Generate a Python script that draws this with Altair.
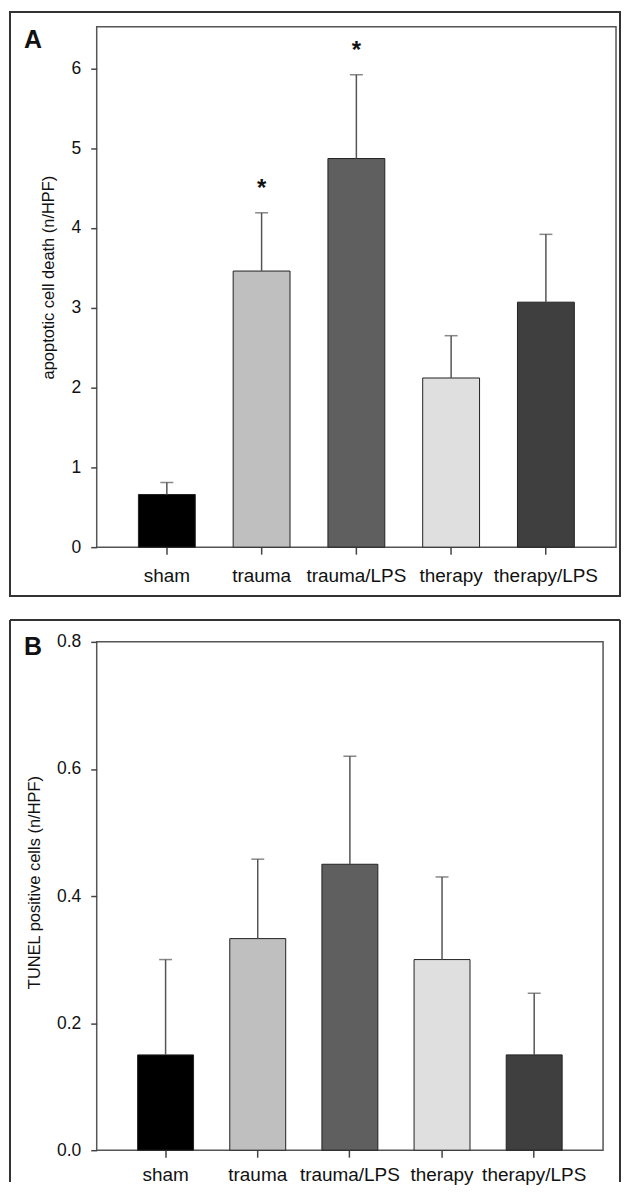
import altair as alt
import pandas as pd

FONT = "Liberation Sans"

CATEGORIES = ["sham", "trauma", "trauma/LPS", "therapy", "therapy/LPS"]
COLORS = ["#000000", "#bfbfbf", "#5f5f5f", "#dfdfdf", "#3f3f3f"]

# Panel A: apoptotic cell death (n/HPF), mean and SEM
A_MEAN = [0.66, 3.46, 4.87, 2.12, 3.07]
A_SEM = [0.15, 0.73, 1.05, 0.53, 0.85]
A_SIG = ["", "*", "*", "", ""]
A_TICKS = [0, 1, 2, 3, 4, 5, 6]
A_DOMAIN = [0, 6.52]

# Panel B: TUNEL positive cells (n/HPF), mean and SEM
B_MEAN = [0.15, 0.333, 0.45, 0.30, 0.15]
B_SEM = [0.15, 0.125, 0.17, 0.13, 0.097]
B_SIG = ["", "", "", "", ""]
B_TICKS = [0.0, 0.2, 0.4, 0.6, 0.8]
B_DOMAIN = [0, 0.8]


def make_panel(mean, sem, sig, ticks, domain, fmt, ytitle, letter,
               w, h, p_in, p_out, title_x, title_y, frame_top, frame_right,
               frame_bottom, closed, letter_y, xlab_pad):
    df = pd.DataFrame({"group": CATEGORIES, "mean": mean, "sem": sem, "sig": sig})
    df["upper"] = df["mean"] + df["sem"]

    xscale = alt.Scale(paddingInner=p_in, paddingOuter=p_out)
    xaxis = alt.Axis(title=None, labelAngle=0, labelFontSize=19, labelFont=FONT,
                     labelColor="#111", tickSize=7, tickColor="#444", tickWidth=1.5,
                     labelPadding=xlab_pad, domain=False)
    x = alt.X("group:N", sort=CATEGORIES, scale=xscale, axis=xaxis)
    yscale = alt.Scale(domain=domain, nice=False, zero=True)
    yaxis = alt.Axis(values=ticks, format=fmt, title=ytitle, titleFont=FONT,
                     titleFontSize=16.5, titleFontWeight="normal", titleColor="#111",
                     titleAngle=-90, titleX=title_x, titleY=title_y,
                     titleAlign="center", titleBaseline="middle",
                     labelFont=FONT, labelFontSize=17.5, labelColor="#111",
                     labelPadding=10, tickSize=6, tickColor="#444", tickWidth=1.5,
                     grid=False, domain=False)
    base = alt.Chart(df)
    bars = base.mark_bar(stroke="#222", strokeWidth=1).encode(
        x=x,
        y=alt.Y("mean:Q", scale=yscale, axis=yaxis, title=ytitle),
        color=alt.Color("group:N", scale=alt.Scale(domain=CATEGORIES, range=COLORS),
                        legend=None),
    )
    xs = alt.X("group:N", sort=CATEGORIES)
    rules = base.mark_rule(color="#555", strokeWidth=1.5).encode(
        x=xs, y=alt.Y("mean:Q", title=ytitle), y2="upper:Q")
    caps = base.mark_tick(color="#555", thickness=1.5, size=13).encode(
        x=xs, y=alt.Y("upper:Q", title=ytitle))
    stars = base.transform_filter(alt.datum.sig != "").mark_text(
        font=FONT, fontSize=24, fontWeight="bold", color="#111",
        baseline="middle", align="center", dy=-24).encode(
        x=xs, y=alt.Y("upper:Q", title=ytitle), text="sig:N")

    one = pd.DataFrame({"label": [letter]})
    lab = alt.Chart(one).mark_text(
        font=FONT, fontSize=25, fontWeight="bold", color="#111",
        align="left", baseline="top").encode(
        x=alt.value(-73), y=alt.value(letter_y), text="label:N")

    if closed:
        frame = alt.Chart(one).mark_rect(fill="transparent", stroke="#333",
                                         strokeWidth=2).encode(
            x=alt.value(-87), x2=alt.value(w + frame_right),
            y=alt.value(frame_top), y2=alt.value(h + frame_bottom))
        frames = [frame]
    else:
        left = alt.Chart(one).mark_rule(color="#333", strokeWidth=2).encode(
            x=alt.value(-87), y=alt.value(frame_top), y2=alt.value(h + frame_bottom))
        top = alt.Chart(one).mark_rule(color="#333", strokeWidth=2).encode(
            x=alt.value(-87), x2=alt.value(w + frame_right), y=alt.value(frame_top))
        right = alt.Chart(one).mark_rule(color="#333", strokeWidth=2).encode(
            x=alt.value(w + frame_right), y=alt.value(frame_top),
            y2=alt.value(h + frame_bottom))
        frames = [left, top, right]

    return alt.layer(bars, rules, caps, stars, lab, *frames).properties(
        width=w, height=h)


panel_a = make_panel(A_MEAN, A_SEM, A_SIG, A_TICKS, A_DOMAIN, "d",
                     "apoptotic cell death (n/HPF)", "A",
                     521, 522, 0.4, 0.44, -48, 251, -15, 4, 49, True, 1, 12)
panel_b = make_panel(B_MEAN, B_SEM, B_SIG, B_TICKS, B_DOMAIN, ".1f",
                     "TUNEL positive cells (n/HPF)", "B",
                     508, 510, 0.393, 0.444, -62, 241, -22, 17, 32, False, -7, 8)

chart = alt.vconcat(panel_a, panel_b, spacing=20).properties(
    padding={"left": 0, "top": 0, "right": 0, "bottom": 0},
    background="white",
).configure_view(stroke="#555", strokeWidth=1.5)

chart.save("out.html", embed_options={"renderer": "svg", "actions": False})
